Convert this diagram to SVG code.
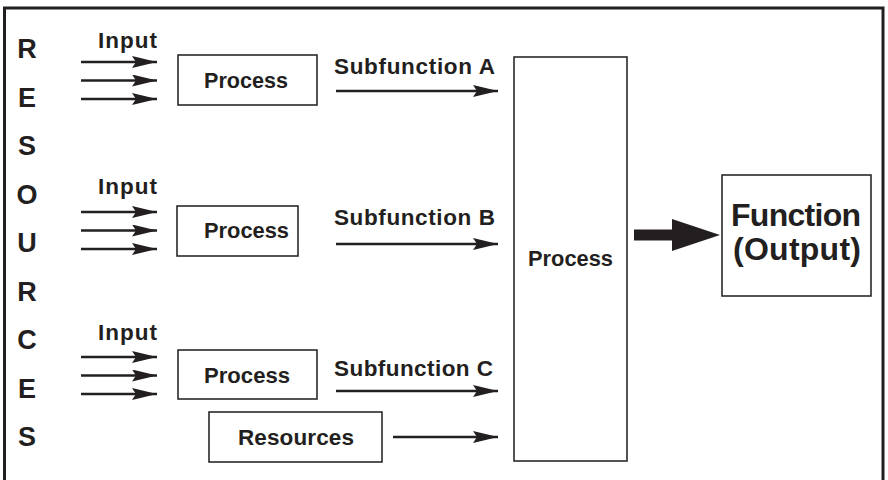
<svg xmlns="http://www.w3.org/2000/svg" width="888" height="480" viewBox="0 0 888 480">
  <style>
    .t { font-family: "Liberation Sans", Arial, sans-serif; font-weight: bold; fill: #231f20; }
    .s { font-size: 22.5px; }
    .big { font-size: 32px; }
    .side { font-size: 27px; }
    .box { fill: #ffffff; stroke: #2a2a2a; stroke-width: 1.6; }
    .ln { stroke: #231f20; stroke-width: 2.4; fill: none; marker-end: url(#head); }
  </style>
  <defs>
    <marker id="head" viewBox="0 0 25 12" refX="25" refY="6" markerWidth="25" markerHeight="12" markerUnits="userSpaceOnUse" orient="auto">
      <path d="M0,0 L25,6 L0,12 L4,6 Z" fill="#231f20"/>
    </marker>
  </defs>

  <rect width="888" height="480" fill="#ffffff"/>
  <!-- outer frame (runs past the bottom edge) -->
  <rect x="4.5" y="8" width="878.5" height="490" fill="none" stroke="#231f20" stroke-width="3"/>

  <!-- vertical RESOURCES label -->
  <g id="resources-label" class="t side" text-anchor="middle">
    <text x="27" y="58">R</text>
    <text x="27" y="106.5">E</text>
    <text x="27" y="155">S</text>
    <text x="27" y="203.5">O</text>
    <text x="27" y="252">U</text>
    <text x="27" y="300.5">R</text>
    <text x="27" y="349">C</text>
    <text x="27" y="397.5">E</text>
    <text x="27" y="446">S</text>
  </g>

  <g id="input-a">
    <text class="t s" x="98" y="48" textLength="59" lengthAdjust="spacing">Input</text>
  </g>
  <g id="input-b">
    <text class="t s" x="98" y="194" textLength="59" lengthAdjust="spacing">Input</text>
  </g>
  <g id="input-c">
    <text class="t s" x="98" y="340" textLength="59" lengthAdjust="spacing">Input</text>
  </g>

  <g id="process-a">
    <rect class="box" x="178" y="55" width="139" height="50"/>
    <text class="t s" x="204" y="88" textLength="84" lengthAdjust="spacingAndGlyphs">Process</text>
  </g>
  <g id="process-b">
    <rect class="box" x="177" y="206" width="121" height="50"/>
    <text class="t s" x="204" y="238" textLength="85" lengthAdjust="spacingAndGlyphs">Process</text>
  </g>
  <g id="process-c">
    <rect class="box" x="178" y="350" width="139" height="49"/>
    <text class="t s" x="204" y="383" textLength="86" lengthAdjust="spacingAndGlyphs">Process</text>
  </g>
  <g id="resources">
    <rect class="box" x="209" y="412" width="173" height="50"/>
    <text class="t s" x="238" y="445" textLength="116" lengthAdjust="spacing">Resources</text>
  </g>

  <g id="subfunction-a">
    <text class="t s" x="334" y="74" textLength="161" lengthAdjust="spacing">Subfunction A</text>
  </g>
  <g id="subfunction-b">
    <text class="t s" x="334" y="225" textLength="161" lengthAdjust="spacing">Subfunction B</text>
  </g>
  <g id="subfunction-c">
    <text class="t s" x="334" y="376" textLength="159" lengthAdjust="spacing">Subfunction C</text>
  </g>

  <g id="process-main">
    <rect class="box" x="514" y="57" width="113" height="404"/>
    <text class="t s" x="528" y="266" textLength="85" lengthAdjust="spacingAndGlyphs">Process</text>
  </g>

  <g id="function-output">
    <rect class="box" x="722" y="175" width="149" height="121"/>
    <text class="t big" x="731" y="226" textLength="130" lengthAdjust="spacing">Function</text>
    <text class="t big" x="733" y="260" textLength="128" lengthAdjust="spacing">(Output)</text>
  </g>

  <g id="connectors">
    <!-- input bundles -->
    <line class="ln" x1="81" y1="62" x2="157" y2="62"/>
    <line class="ln" x1="81" y1="80.5" x2="157" y2="80.5"/>
    <line class="ln" x1="81" y1="99" x2="157" y2="99"/>
    <line class="ln" x1="81" y1="212" x2="157" y2="212"/>
    <line class="ln" x1="81" y1="230.5" x2="157" y2="230.5"/>
    <line class="ln" x1="81" y1="249" x2="157" y2="249"/>
    <line class="ln" x1="81" y1="357" x2="157" y2="357"/>
    <line class="ln" x1="81" y1="375.5" x2="157" y2="375.5"/>
    <line class="ln" x1="81" y1="394" x2="157" y2="394"/>
    <!-- subfunctions into the main process -->
    <line class="ln" x1="336" y1="91" x2="498" y2="91"/>
    <line class="ln" x1="336" y1="244" x2="498" y2="244"/>
    <line class="ln" x1="336" y1="391" x2="498" y2="391"/>
    <line class="ln" x1="393" y1="437" x2="498" y2="437"/>
    <!-- heavy output arrow -->
    <path d="M634,229.5 L672,229.5 L672,219 L720,235 L672,251 L672,240.5 L634,240.5 Z" fill="#231f20"/>
  </g>
</svg>
